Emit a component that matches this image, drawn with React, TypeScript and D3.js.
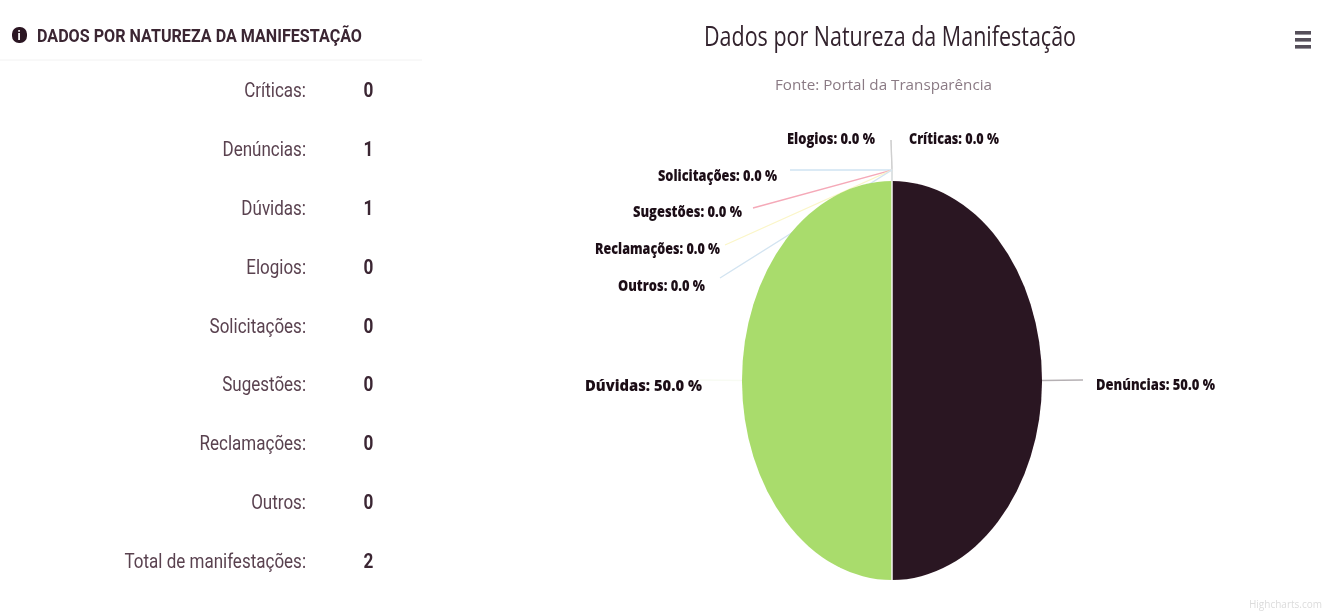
import React from "react";
import * as d3 from "d3";

const categories = ["Críticas", "Denúncias", "Dúvidas", "Elogios", "Solicitações", "Sugestões", "Reclamações", "Outros"];
const counts = [0, 1, 1, 0, 0, 0, 0, 0];
const sliceColors = ["#dcdcdc", "#2a1420", "#a9dc6c", "#cfcfcf", "#cfe3f2", "#f5a9b8", "#fbf6c8", "#d3e4f1"];
const totalLabel = "Total de manifestações";
const panelTitle = "DADOS POR NATUREZA DA MANIFESTAÇÃO";
const chartTitle = "Dados por Natureza da Manifestação";
const chartSubtitle = "Fonte: Portal da Transparência";

// label layout: [text left x, text width, baseline y, leader end x, leader end y]
const labelLayout: Record<string, number[]> = {
  "Críticas": [909, 90, 144, 891, 140],
  "Denúncias": [1096, 119, 390, 1083, 380],
  "Dúvidas": [585, 117, 391, 700, 380],
  "Elogios": [787, 88, 144, 891, 140],
  "Solicitações": [658, 119, 181, 790, 170],
  "Sugestões": [633, 109, 217, 753, 208],
  "Reclamações": [595, 125, 254, 725, 245],
  "Outros": [618, 87, 291, 720, 278],
};

const W = 1330, H = 613;
const rowY = d3.scalePoint<string>().domain([...categories, totalLabel]).range([90, 561]);
const ex = d3.scaleLinear().domain([-1, 1]).range([742, 1042]);
const ey = d3.scaleLinear().domain([-1, 1]).range([181, 580]);

export default function App() {
  const pie = d3.pie<number>().sort(null).value((d) => d)(counts);
  const arc = d3.arc<d3.PieArcDatum<number>>().innerRadius(0).outerRadius(1);
  const total = d3.sum(counts);
  const fmt = d3.format(".1f");
  const rows = categories.map((c, i) => ({ label: c + ":", v: counts[i], key: c }));
  rows.push({ label: totalLabel + ":", v: total, key: totalLabel });
  const cx = ex(0), cy = ey(0), rx = ex(1) - cx, ry = ey(1) - cy;
  const labelFont = "'Open Sans', sans-serif";
  const condensed = (x: number, y: number, k: number) => `translate(${x},${y}) scale(${k},1)`;
  return (
    <svg width={W} height={H} style={{ position: "absolute", left: 0, top: 0, background: "#fff" }}>
      <defs>
        <filter id="soft" x="-5%" y="-5%" width="110%" height="110%"><feGaussianBlur stdDeviation="0.45" /></filter>
      </defs>
      <g filter="url(#soft)">
        <line x1={0} x2={422} y1={60} y2={60} stroke="#f2f2f2" />
        <rect x={12} y={27} width={15} height={16} rx={7} fill="#2a1420" />
        <text x={19} y={40} textAnchor="middle" fontFamily="Roboto" fontWeight={700} fontSize={12} fill="#fff">i</text>
        <text x={37} y={42} fontFamily="Roboto" fontWeight={700} fontSize={18} fill="#3a2533" textLength={325} lengthAdjust="spacingAndGlyphs">{panelTitle}</text>
        {rows.map((r) => (
          <g key={r.key}>
            <text transform={condensed(306, rowY(r.key)! + 7, 0.83)} textAnchor="end" fontFamily="Roboto" fontSize={20.5} fill="#5a4250">{r.label}</text>
            <text transform={condensed(368.5, rowY(r.key)! + 7, 0.86)} textAnchor="middle" fontFamily="Roboto" fontWeight={700} fontSize={20} fill="#3a2533">{r.v}</text>
          </g>
        ))}

        <text x={704} y={46} fontFamily="'Open Sans', sans-serif" fontSize={27} fill="#33232d" textLength={372} lengthAdjust="spacingAndGlyphs">{chartTitle}</text>
        <text x={775} y={90} fontFamily="'Open Sans', sans-serif" fontSize={14} fill="#8a7a84" textLength={217} lengthAdjust="spacingAndGlyphs">{chartSubtitle}</text>
        {[0, 1, 2].map((i) => (
          <rect key={i} x={1295} y={31 + i * 7} width={16} height={3.6} fill="#55505a" />
        ))}

        {pie.map((p, i) => {
          const mid = (p.startAngle + p.endAngle) / 2;
          const px = cx + Math.sin(mid) * rx, py = cy - Math.cos(mid) * ry;
          const [, , , lx, ly] = labelLayout[categories[i]];
          const zero = p.value === 0;
          const jy = zero ? py - 11 : py;
          return (
            <path key={categories[i]} d={`M${lx},${ly}L${px},${jy}L${px},${py}`} fill="none" stroke={p.value ? (i === 1 ? "#b5b0b3" : "#f8fbf3") : sliceColors[i]} strokeWidth={1.3} />
          );
        })}
        {pie.filter((p) => p.value > 0).map((p) => (
          <path key={p.index} d={arc(p)!} transform={`translate(${cx},${cy}) scale(${rx},${ry})`} fill={sliceColors[p.index]} />
        ))}
        <line x1={cx} x2={cx} y1={ey(-1)} y2={ey(1)} stroke="#f4f4f0" strokeWidth={1.5} />
        {pie.map((p, i) => {
          const [tx, tw, ty] = labelLayout[categories[i]];
          return (
            <text key={categories[i]} x={tx} y={ty} fontFamily={labelFont} fontWeight={800} fontSize={15} fill="#1c0f18" textLength={tw} lengthAdjust="spacingAndGlyphs">
              {`${categories[i]}: ${fmt((p.value / total) * 100)} %`}
            </text>
          );
        })}
        <text x={1322} y={608} textAnchor="end" fontFamily="'Open Sans', sans-serif" fontSize={10} fill="#dcdcdc">Highcharts.com</text>
      </g>
    </svg>
  );
}
